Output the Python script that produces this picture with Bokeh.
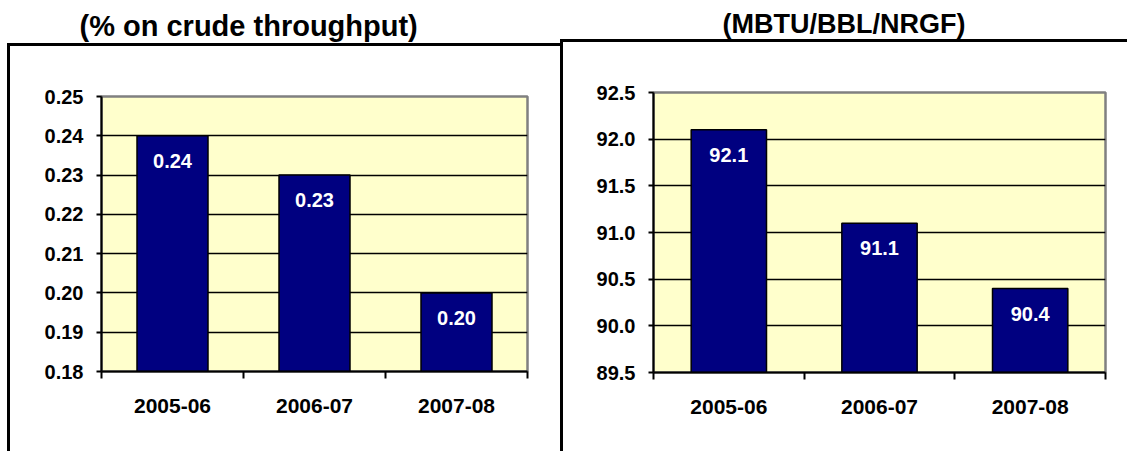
from bokeh.plotting import figure
from bokeh.models import (Range1d, FixedTicker, LabelSet, ColumnDataSource, Title,
                          NumeralTickFormatter)
from bokeh.layouts import row, column
from bokeh.embed import file_html
from bokeh.resources import INLINE
from bokeh.core.properties import value

categories = ["2005-06", "2006-07", "2007-08"]
loss_values = [0.24, 0.23, 0.20]
energy_values = [92.1, 91.1, 90.4]
loss_ticks = [0.18, 0.19, 0.20, 0.21, 0.22, 0.23, 0.24, 0.25]
energy_ticks = [89.5, 90.0, 90.5, 91.0, 91.5, 92.0, 92.5]
left_title = "(% on crude throughput)"
right_title = "(MBTU/BBL/NRGF)"

FONT = "Liberation Sans"


def title_fig(text, width, height, offset, top, size):
    t = figure(width=width, height=height, output_backend="svg", toolbar_location=None,
               x_range=Range1d(0, 1), y_range=Range1d(0, 1),
               min_border_left=0, min_border_right=0,
               min_border_top=top, min_border_bottom=0)
    t.axis.visible = False
    t.grid.grid_line_color = None
    t.outline_line_color = None
    t.background_fill_color = "white"
    t.border_fill_color = "white"
    t.add_layout(Title(text=text, align="left", offset=offset, standoff=0,
                       text_font=FONT, text_font_style="bold",
                       text_font_size=size, text_color="black"), "above")
    return t


def panel(vals, ticks, fmt, width, height, mb_left, mb_right, mb_top, mb_bottom, shadow):
    p = figure(width=width, height=height, output_backend="svg", toolbar_location=None,
               x_range=Range1d(0, len(categories)),
               y_range=Range1d(ticks[0], ticks[-1]),
               min_border_left=mb_left, min_border_right=mb_right,
               min_border_top=mb_top, min_border_bottom=mb_bottom,
               styles={"box-shadow": shadow})
    p.background_fill_color = "#FFFFCC"
    p.border_fill_alpha = 0
    p.outline_line_color = "#808080"
    p.outline_line_width = 2.5

    xs = [i + 0.5 for i in range(len(categories))]
    src = ColumnDataSource(dict(x=xs, top=vals,
                                lab=[fmt.format(v) for v in vals]))
    p.vbar(x="x", top="top", bottom=0, width=0.5, source=src,
           fill_color="#000080", line_color="black", line_width=1.5)
    p.add_layout(LabelSet(x="x", y="top", text="lab", source=src,
                          y_offset=-25, text_align="center", text_baseline="middle",
                          text_color="white", text_font=value(FONT),
                          text_font_style="bold", text_font_size="20px"))

    # y axis
    p.yaxis.ticker = FixedTicker(ticks=ticks)
    p.yaxis.formatter = NumeralTickFormatter(format="0.00" if ticks[1] - ticks[0] < 0.1 else "0.0")
    p.yaxis.axis_line_width = 2
    p.yaxis.axis_line_color = "black"
    p.yaxis.major_tick_out = 5
    p.yaxis.major_tick_in = 0
    p.yaxis.major_tick_line_width = 2
    p.yaxis.minor_tick_line_color = None
    p.yaxis.major_label_standoff = 13
    p.yaxis.major_label_text_font = FONT
    p.yaxis.major_label_text_font_style = "bold"
    p.yaxis.major_label_text_font_size = "20px"
    p.yaxis.major_label_text_color = "black"

    # x axis: labels at category centres, ticks at category boundaries
    p.xaxis.ticker = FixedTicker(ticks=xs, minor_ticks=list(range(len(categories) + 1)))
    p.xaxis.major_label_overrides = {x: c for x, c in zip(xs, categories)}
    p.xaxis.axis_line_width = 2
    p.xaxis.axis_line_color = "black"
    p.xaxis.major_tick_line_color = None
    p.xaxis.major_tick_out = 0
    p.xaxis.major_tick_in = 0
    p.xaxis.minor_tick_out = 7
    p.xaxis.minor_tick_in = 0
    p.xaxis.minor_tick_line_width = 2
    p.xaxis.minor_tick_line_color = "black"
    p.xaxis.major_label_standoff = 20
    p.xaxis.major_label_text_font = FONT
    p.xaxis.major_label_text_font_style = "bold"
    p.xaxis.major_label_text_font_size = "21px"
    p.xaxis.major_label_text_color = "black"

    p.xgrid.grid_line_color = None
    p.ygrid.grid_line_color = "black"
    p.ygrid.grid_line_width = 1.5
    return p


# title offsets are measured from the frame's left edge (frames are aligned in each column)
left_t = title_fig(left_title, 560, 43, -22, 41, "29px")
right_t = title_fig(right_title, 567, 39, 69, 38, "27px")

left = panel(loss_values, loss_ticks, "{:.2f}", 560, 408, 101, 33, 53, 80,
             "inset 7px 0 0 0 white, inset 10px 0 0 0 black, inset 0 3px 0 0 black")
right = panel(energy_values, energy_ticks, "{:.1f}", 567, 412, 93, 22, 53, 79,
              "inset 3px 0 0 0 black, inset 0 3px 0 0 black")

layout = row(column(left_t, left, spacing=0), column(right_t, right, spacing=0), spacing=0)
open("out.html", "w").write(file_html(layout, INLINE))
